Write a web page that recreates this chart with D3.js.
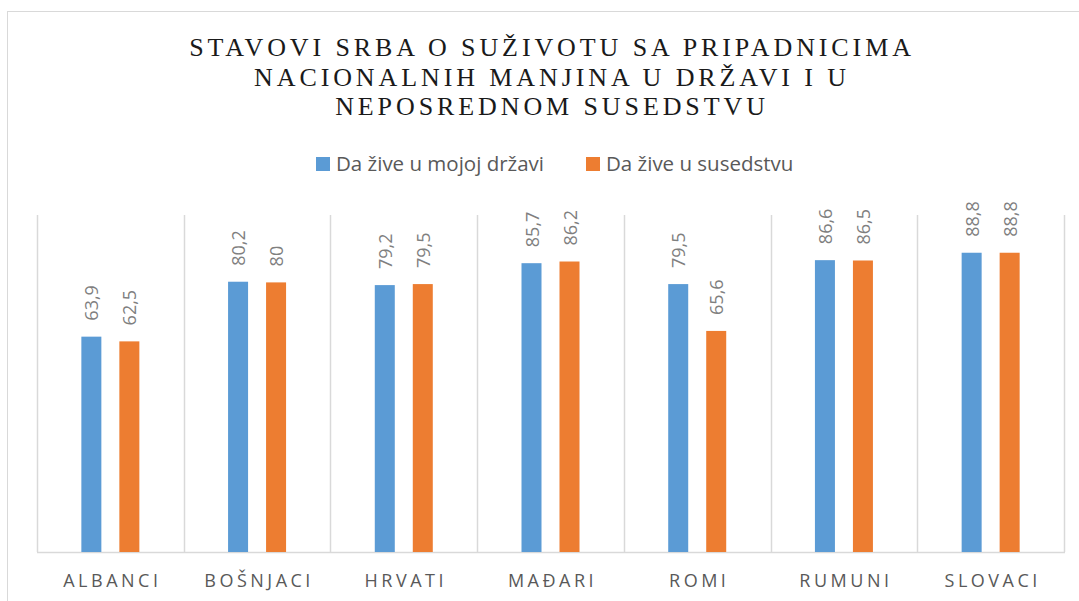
<!DOCTYPE html>
<meta charset="utf-8">
<head>
    <title>Stavovi Srba</title>
    <script type="text/javascript" src="https://d3js.org/d3.v7.min.js"></script>
    <style>
        body { margin: 0; background: #fff; }
        svg { display: block; }
    </style>
</head>
<body>
    <div id="chart"></div>
    <script>
        // data
        var categories = ["ALBANCI", "BOŠNJACI", "HRVATI", "MAĐARI", "ROMI", "RUMUNI", "SLOVACI"]
        var seriesNames = ["Da žive u mojoj državi", "Da žive u susedstvu"]
        var drzava = [63.9, 80.2, 79.2, 85.7, 79.5, 86.6, 88.8]
        var susedstvo = [62.5, 80, 79.5, 86.2, 65.6, 86.5, 88.8]
        var titleLines = ["STAVOVI SRBA O SUŽIVOTU SA PRIPADNICIMA",
                          "NACIONALNIH MANJINA U DRŽAVI I U",
                          "NEPOSREDNOM SUSEDSTVU"]
        var colors = ["#5b9bd5", "#ed7d31"]

        var width = 1079, height = 601
        var plot = {left: 37, right: 1064, top: 215, bottom: 552}

        var svg = d3.select("#chart").append("svg")
          .attr("width", width)
          .attr("height", height)

        // chart frame (goes past the right and bottom edge)
        svg.append("rect")
          .attr("x", 7.5).attr("y", 11.5)
          .attr("width", 1100).attr("height", 620)
          .attr("fill", "none")
          .attr("stroke", "#d9d9d9")

        // title
        svg.append("g").selectAll("text")
          .data(titleLines)
          .enter().append("text")
            .attr("x", 552)
            .attr("y", function(d, i){ return 56 + i * 29.5 })
            .attr("text-anchor", "middle")
            .attr("font-family", "Liberation Serif, serif")
            .attr("font-size", "26px")
            .attr("letter-spacing", "3.9px")
            .attr("fill", "#1a1a1a")
            .text(function(d){ return d })

        // legend
        var legendX = [316, 586]
        var legend = svg.append("g").selectAll("g")
          .data(seriesNames)
          .enter().append("g")
            .attr("transform", function(d, i){ return "translate(" + legendX[i] + ",157)" })
        legend.append("rect")
          .attr("width", 14).attr("height", 14)
          .attr("fill", function(d, i){ return colors[i] })
        legend.append("text")
          .attr("x", 20).attr("y", 14)
          .attr("font-family", "Open Sans, sans-serif")
          .attr("font-size", "20.5px")
          .attr("fill", "#595959")
          .text(function(d){ return d })

        // scales
        var x = d3.scaleBand().domain(categories).range([plot.left, plot.right])
        var y = d3.scaleLinear().domain([0, 100]).range([plot.bottom, plot.top])
        var barW = 20
        var offsets = [-19, 19]   // centre of each bar from band centre

        // vertical separators
        var seps = x.domain().map(function(d){ return x(d) }).concat([plot.right])
        svg.append("g").selectAll("line")
          .data(seps)
          .enter().append("line")
            .attr("x1", function(d){ return Math.round(d) + 0.5 })
            .attr("x2", function(d){ return Math.round(d) + 0.5 })
            .attr("y1", plot.top).attr("y2", plot.bottom)
            .attr("stroke", "#d9d9d9").attr("stroke-width", 1.5)

        // baseline
        svg.append("line")
          .attr("x1", plot.left).attr("x2", plot.right + 1)
          .attr("y1", plot.bottom + 0.5).attr("y2", plot.bottom + 0.5)
          .attr("stroke", "#d9d9d9").attr("stroke-width", 1.5)

        var series = [drzava, susedstvo]
        series.forEach(function(vals, s){
          var g = svg.append("g")
          var rows = categories.map(function(c, i){ return {cat: c, v: vals[i]} })
          g.selectAll("rect")
            .data(rows)
            .enter().append("rect")
              .attr("x", function(d){ return x(d.cat) + x.bandwidth() / 2 + offsets[s] - barW / 2 })
              .attr("y", function(d){ return y(d.v) })
              .attr("width", barW)
              .attr("height", function(d){ return plot.bottom - y(d.v) })
              .attr("fill", colors[s])
          g.selectAll("text")
            .data(rows)
            .enter().append("text")
              .attr("transform", function(d){
                var cx = x(d.cat) + x.bandwidth() / 2 + offsets[s] + 7
                return "translate(" + cx + "," + (y(d.v) - 16) + ") rotate(-90)"
              })
              .attr("font-family", "Open Sans, sans-serif")
              .attr("font-size", "18px")
              .attr("fill", "#7f7f7f")
              .text(function(d){ return String(d.v).replace(".", ",") })
        })

        // category labels
        svg.append("g").selectAll("text")
          .data(categories)
          .enter().append("text")
            .attr("x", function(d){ return x(d) + x.bandwidth() / 2 + 2 })
            .attr("y", 587)
            .attr("text-anchor", "middle")
            .attr("font-family", "Open Sans, sans-serif")
            .attr("font-size", "18px")
            .attr("letter-spacing", "3.5px")
            .attr("fill", "#595959")
            .text(function(d){ return d })
    </script>
</body>
</html>
